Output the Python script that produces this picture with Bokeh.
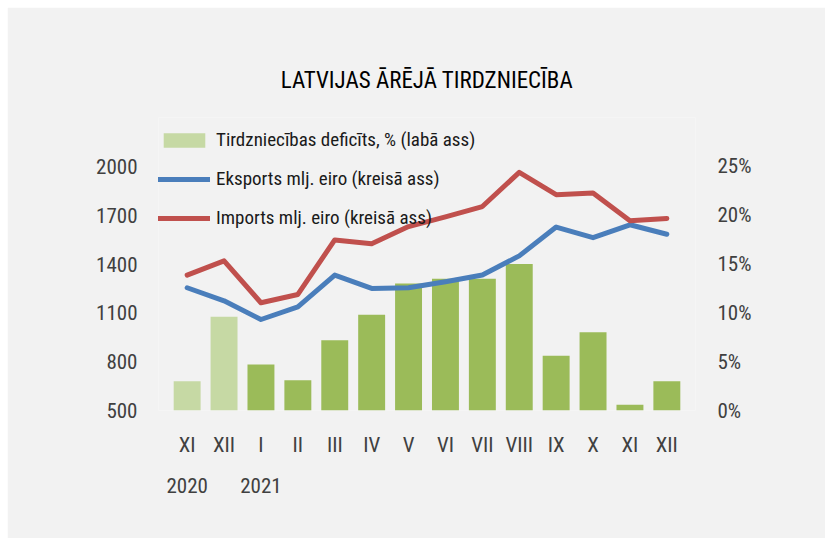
from bokeh.plotting import figure
from bokeh.models import (Range1d, LinearAxis, CategoricalAxis, FixedTicker, FactorRange,
                          PrintfTickFormatter, ColumnDataSource, Legend, LegendItem, Title)
from bokeh.embed import file_html
from bokeh.resources import INLINE

# ---- data ----
months = ["XI", "XII", "I", "II", "III", "IV", "V", "VI", "VII", "VIII", "IX", "X", "XI", "XII"]
years = ["2020", "2020", "2021", "2021", "2021", "2021", "2021", "2021", "2021", "2021",
         "2021", "2021", "2021", "2021"]
deficit = [3.0, 9.6, 4.7, 3.1, 7.2, 9.8, 13.0, 13.5, 13.5, 15.0, 5.6, 8.0, 0.6, 3.0]
exports = [1254, 1174, 1059, 1137, 1332, 1250, 1254, 1291, 1332, 1450, 1627, 1562, 1641, 1583]
imports = [1332, 1419, 1162, 1213, 1548, 1524, 1630, 1690, 1753, 1963, 1826, 1836, 1665, 1680]
left_ticks = [500, 800, 1100, 1400, 1700, 2000]
right_ticks = [0, 5, 10, 15, 20, 25]
title_text = "LATVIJAS ĀRĒJĀ TIRDZNIECĪBA"
legend_labels = ["Tirdzniecības deficīts, % (labā ass)",
                 "Eksports mlj. eiro (kreisā ass)",
                 "Imports mlj. eiro (kreisā ass)"]

FONT = "Roboto Condensed"
BG = "#f2f2f2"
TXT = "#404040"
ZW = "\u200b"
PAD = 0.2765  # x padding on each side, in category widths

# unique factors: repeated month names get zero-width suffixes
factors = []
seen = {}
for m in months:
    k = seen.get(m, 0)
    factors.append(m + ZW * k)
    seen[m] = k + 1

# year-row factors: year shown under its first month, blanks elsewhere
year_factors = []
blank = 0
shown = set()
for y in years:
    if y not in shown:
        year_factors.append(y)
        shown.add(y)
    else:
        blank += 1
        year_factors.append(ZW * blank)

bar_colors = ["#c6d9a4" if y == "2020" else "#9bbb59" for y in years]

src = ColumnDataSource(dict(x=factors, deficit=deficit, exports=exports,
                            imports=imports, color=bar_colors))

p = figure(x_range=FactorRange(factors=factors, range_padding=PAD,
                               range_padding_units="absolute"),
           y_range=Range1d(500, 2300),
           width=818, height=531,
           output_backend="svg", toolbar_location=None,
           background_fill_color=BG, border_fill_color=BG,
           min_border_left=151, min_border_right=130, min_border_top=110,
           min_border_bottom=128, outline_line_color=None)
p.margin = (7, 0, 0, 7)
p.extra_y_ranges = {"right": Range1d(0, 30)}
p.extra_x_ranges = {"years": FactorRange(factors=year_factors, range_padding=PAD,
                                         range_padding_units="absolute")}

p.title = Title(text=title_text, align="center", text_font=FONT,
                text_font_size="23px", text_font_style="normal", text_color="#000000",
                standoff=48)

p.xgrid.visible = False
p.ygrid.visible = False

bars = p.vbar(x="x", top="deficit", width=0.73, source=src, y_range_name="right",
              color="color", line_color=None)
lexp = p.line(x="x", y="exports", source=src, line_color="#4a7ebb", line_width=5,
              line_cap="round", line_join="round")
limp = p.line(x="x", y="imports", source=src, line_color="#c0504d", line_width=5,
              line_cap="round", line_join="round")

def style_axis(ax, standoff):
    ax.axis_line_color = None
    ax.major_tick_line_color = None
    ax.minor_tick_line_color = None
    ax.major_tick_in = 0
    ax.major_tick_out = 0
    ax.minor_tick_in = 0
    ax.minor_tick_out = 0
    ax.major_label_text_font = FONT
    ax.major_label_text_font_size = "21px"
    ax.major_label_text_color = TXT
    ax.major_label_standoff = standoff

ly = p.yaxis[0]
ly.ticker = FixedTicker(ticks=left_ticks)
style_axis(ly, 21)

ry = LinearAxis(y_range_name="right", ticker=FixedTicker(ticks=right_ticks),
                formatter=PrintfTickFormatter(format="%d%%"))
style_axis(ry, 22)
p.add_layout(ry, "right")

xa = p.xaxis[0]
style_axis(xa, 22)

ya = CategoricalAxis(x_range_name="years")
style_axis(ya, 14)
p.add_layout(ya, "below")

legend = Legend(items=[LegendItem(label=legend_labels[0], renderers=[bars]),
                       LegendItem(label=legend_labels[1], renderers=[lexp]),
                       LegendItem(label=legend_labels[2], renderers=[limp])],
                location=(0, 181), orientation="vertical",
                background_fill_alpha=0, border_line_color=None,
                label_text_font=FONT, label_text_font_size="19px",
                label_text_color="#1a1a1a",
                label_standoff=6, spacing=16, padding=0, margin=0)
legend.glyph_width = 52
legend.glyph_height = 18
p.add_layout(legend, "center")

open("out.html", "w").write(file_html(p, INLINE))
